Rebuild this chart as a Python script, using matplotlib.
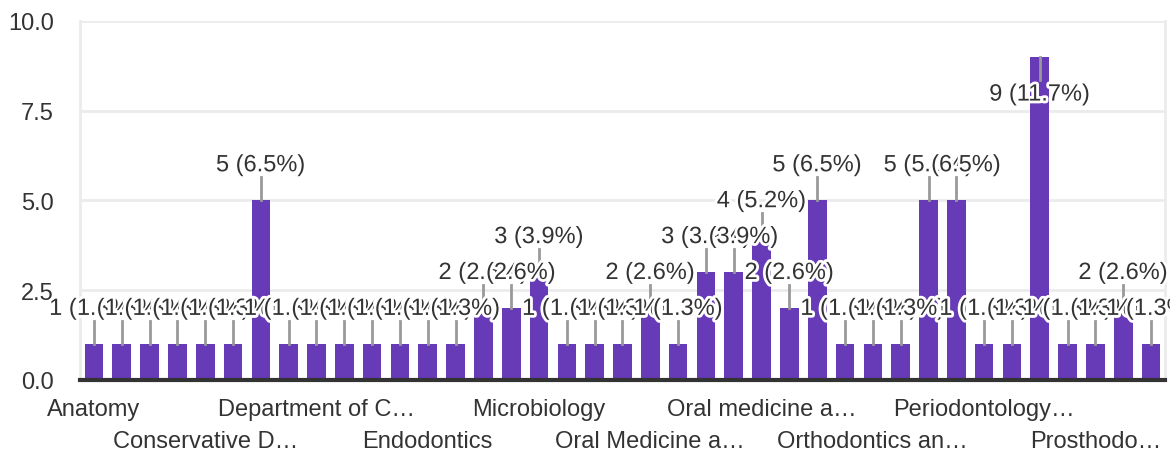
import matplotlib.pyplot as plt
import matplotlib.patheffects as pe
import numpy as np

plt.rcParams['font.family'] = ['Liberation Sans', 'DejaVu Sans']

# responses per department (alphabetical order, 39 departments)
counts = [1, 1, 1, 1, 1, 1, 5, 1, 1, 1, 1, 1, 1, 1,
          2, 2, 3, 1, 1, 1, 2, 1, 3, 3, 4, 2, 5, 1,
          1, 1, 5, 5, 1, 1, 9, 1, 1, 2, 1]
# only every 4th department name is visible on the axis
tick_pos = [0, 4, 8, 12, 16, 20, 24, 28, 32, 36]
tick_labels = ['Anatomy', 'Conservative D…', 'Department of C…', 'Endodontics',
               'Microbiology', 'Oral Medicine a…', 'Oral medicine a…',
               'Orthodontics an…', 'Periodontology…', 'Prosthodo…']

purple = '#673ab7'
txt = '#333333'
fs = 17
total = sum(counts)
x = np.arange(len(counts))

fig = plt.figure(figsize=(11.7, 4.56), dpi=100)
ax = fig.add_axes([0.0684, 0.1645, 0.9273, 0.7873])

ax.bar(x, counts, width=0.67, color=purple, zorder=2)

ax.set_xlim(-0.5, len(counts) - 0.5)
ax.set_ylim(0, 10)
ax.set_yticks([0, 2.5, 5, 7.5, 10])
ax.set_yticklabels(['0.0', '2.5', '5.0', '7.5', '10.0'])
ax.yaxis.grid(True, color='#ebebeb', linewidth=2, zorder=0)
ax.tick_params(axis='y', length=0, pad=19, labelsize=fs, labelcolor=txt)

# two staggered rows of category labels
ax.set_xticks(tick_pos[0::2])
ax.set_xticklabels(tick_labels[0::2])
ax.set_xticks(tick_pos[1::2], minor=True)
ax.set_xticklabels(tick_labels[1::2], minor=True)
ax.tick_params(axis='x', which='major', length=0, pad=13, labelsize=fs, labelcolor=txt)
ax.tick_params(axis='x', which='minor', length=0, pad=36, labelsize=fs, labelcolor=txt)

for s in ['left', 'right']:
    ax.spines[s].set_color('#ebebeb')
    ax.spines[s].set_linewidth(2)
ax.spines['top'].set_visible(False)
ax.spines['bottom'].set_color('#333333')
ax.spines['bottom'].set_linewidth(3)
ax.spines['bottom'].set_zorder(5)

# value labels with leader lines
halo = [pe.withStroke(linewidth=4, foreground='white')]
for i, c in enumerate(counts):
    lab = '%d (%.1f%%)' % (c, 100.0 * c / total)
    if c + 1.3 > 10:
        ax.plot([i, i], [c, c - 0.65], color='#999999', lw=2, zorder=3)
        ty = c - 1.05
    else:
        ax.plot([i, i], [c, c + 0.65], color='#999999', lw=2, zorder=3)
        ty = c + 0.98
    ax.text(i, ty, lab, ha='center', va='center', fontsize=fs, color=txt,
            path_effects=halo, zorder=4, clip_on=False)

fig.savefig('out.png', dpi=100)
